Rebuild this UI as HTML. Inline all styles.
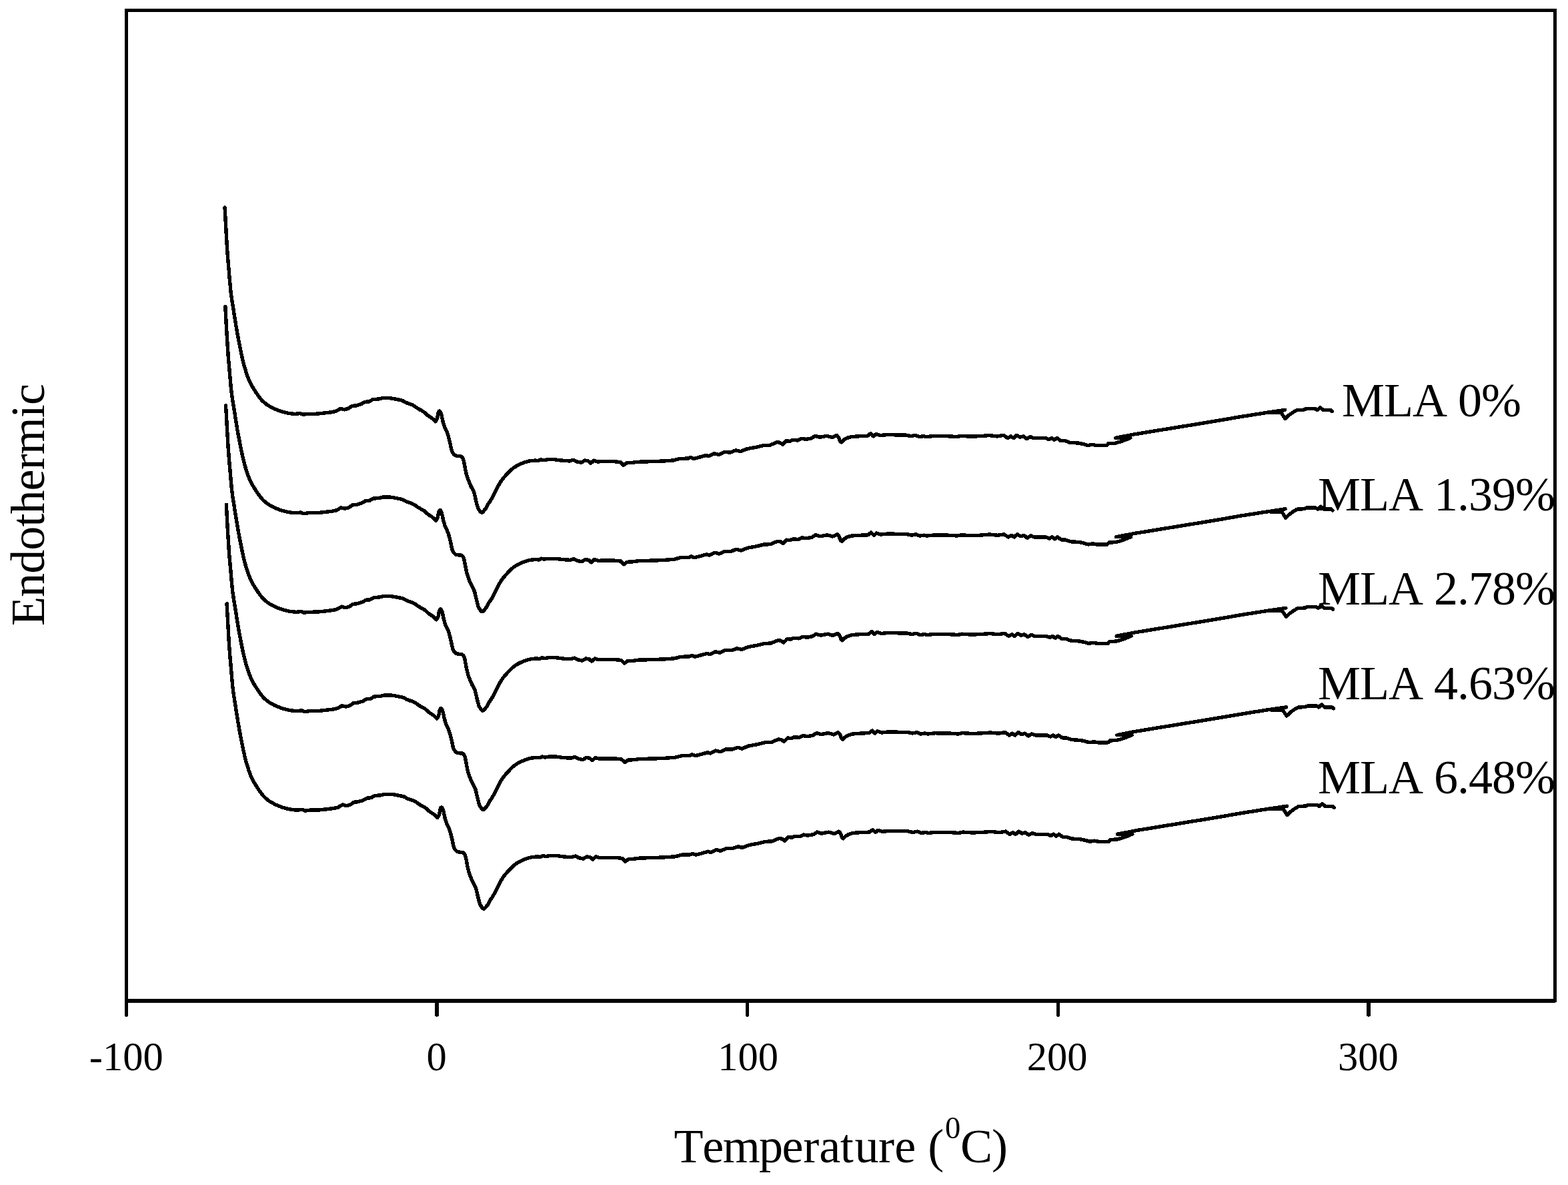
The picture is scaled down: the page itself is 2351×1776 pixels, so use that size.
<!DOCTYPE html>
<html lang="en">
<head>
<meta charset="utf-8">
<title>DSC thermograms</title>
<style>
html,body{margin:0;padding:0;background:#fff;}
body{width:2351px;height:1776px;overflow:hidden;}
svg{display:block;}
text{font-family:"Liberation Serif","Times New Roman",Times,serif;fill:#000;font-kerning:none;font-variant-ligatures:none;}
</style>
</head>
<body>
<svg width="2351" height="1776" viewBox="0 0 2351 1776">
<defs><clipPath id="plot"><rect x="189" y="15" width="2142" height="1485"/></clipPath></defs>
<rect x="0" y="0" width="2351" height="1776" fill="#fff"/>
<g clip-path="url(#plot)">
<text x="2012.0" y="624" font-size="72" letter-spacing="-1">MLA 0%</text>
<text x="1976.0" y="765" font-size="72" letter-spacing="-1">MLA 1.39%</text>
<text x="1976.0" y="906" font-size="72" letter-spacing="-1">MLA 2.78%</text>
<text x="1976.0" y="1048" font-size="72" letter-spacing="-1">MLA 4.63%</text>
<text x="1976.0" y="1189" font-size="72" letter-spacing="-1">MLA 6.48%</text>
</g>
<g fill="none" stroke="#000" stroke-width="5.4" stroke-linejoin="round" stroke-linecap="round" shape-rendering="crispEdges">
<polyline points="337.1,311.0 337.3,315.5 337.7,321.8 338.1,329.2 338.5,337.0 338.9,344.2 339.3,351.0 339.7,358.0 340.1,364.9 340.5,371.8 341.0,378.5 341.5,385.0 342.0,391.4 342.5,397.6 343.1,403.8 343.6,410.0 344.1,416.3 344.7,422.7 345.3,428.9 345.8,434.8 346.4,440.0 347.0,444.4 347.5,448.2 348.1,451.7 348.6,455.0 349.2,458.5 349.8,462.2 350.3,465.9 350.9,469.6 351.5,473.3 352.1,477.0 352.7,480.8 353.3,484.6 353.9,488.5 354.6,492.3 355.2,496.0 355.8,499.6 356.5,503.1 357.2,506.6 357.8,510.0 358.5,513.5 359.2,517.0 359.9,520.5 360.6,524.1 361.3,527.5 362.0,531.0 362.8,534.4 363.5,537.8 364.3,541.2 365.1,544.5 366.0,547.8 366.9,551.1 368.0,554.4 369.0,557.6 370.0,560.7 371.0,563.5 371.9,566.0 372.8,568.3 373.7,570.4 374.5,572.4 375.4,574.2 376.2,575.8 377.0,577.2 377.8,578.6 378.6,579.9 379.6,581.5 380.7,583.3 382.0,585.3 383.3,587.4 384.7,589.4 386.0,591.3 387.3,593.1 388.5,594.8 389.8,596.5 391.1,598.1 392.4,599.6 393.8,601.0 395.2,602.4 396.6,603.6 398.1,604.8 399.6,606.0 401.2,607.1 402.8,608.1 404.5,609.1 406.2,610.0 407.8,610.9 409.4,611.7 411.0,612.5 412.7,613.2 414.3,613.9 415.9,614.5 417.5,615.1 419.0,615.7 420.6,616.3 422.3,616.8 424.0,617.3 425.9,617.8 427.9,618.3 430.0,618.7 432.0,619.2 434.0,619.5 436.0,619.8 438.1,620.0 440.1,620.2 441.8,620.3 443.0,620.4 450.3,619.5 454.3,621.3 461.1,620.4 474.7,620.2 486.4,619.0 497.3,617.7 503.6,616.3 510.8,612.3 516.3,613.9 522.2,612.3 527.5,608.5 534.4,607.8 541.6,605.6 547.0,602.4 553.3,601.9 558.8,598.8 568.7,597.9 569.5,597.7 570.6,597.4 571.9,597.0 573.4,596.7 575.0,596.5 576.8,596.4 578.8,596.4 580.9,596.5 583.0,596.6 585.0,596.8 586.9,597.0 588.7,597.3 590.4,597.6 592.2,597.9 594.0,598.3 595.9,598.7 597.8,599.1 599.7,599.5 601.5,599.9 603.1,600.4 604.3,600.9 605.3,601.5 606.2,602.1 607.2,602.7 608.5,603.3 610.2,603.9 612.2,604.6 614.3,605.3 616.5,606.1 618.4,606.9 620.2,607.9 621.8,609.0 623.4,610.1 625.0,611.2 626.6,612.3 628.3,613.3 629.9,614.2 631.6,615.0 633.2,615.9 634.7,616.9 636.1,617.9 637.3,619.0 638.5,620.1 639.7,621.2 641.0,622.3 642.4,623.3 644.0,624.4 645.5,625.4 647.0,626.3 648.3,627.3 649.5,628.3 650.5,629.4 651.5,630.3 652.2,631.2 652.8,631.8 653.5,630.6 654.6,628.8 655.5,626.8 656.1,624.4 656.5,621.8 656.9,619.6 657.3,618.2 657.7,617.2 658.2,616.6 658.7,616.2 659.2,616.1 659.8,616.6 660.4,617.7 661.1,619.3 661.8,621.4 662.5,624.4 663.2,627.9 663.7,630.4 664.0,631.6 664.5,633.4 665.1,635.5 665.7,637.6 666.4,639.5 667.1,641.3 667.9,643.0 668.8,644.7 669.6,646.4 670.3,648.0 670.9,649.6 671.4,651.1 671.8,652.6 672.3,654.1 672.7,655.7 673.2,657.4 673.7,659.3 674.1,661.2 674.6,663.0 675.0,664.8 675.4,666.5 675.7,668.3 676.0,670.0 676.4,671.6 676.7,673.0 677.0,674.3 677.3,675.4 677.7,676.4 678.1,677.4 678.6,678.3 679.2,679.3 680.0,680.2 680.8,681.1 681.6,681.9 682.5,682.5 683.4,682.9 684.3,683.1 685.2,683.2 686.1,683.3 687.0,683.4 687.8,683.5 688.7,683.4 689.5,683.4 690.3,683.5 691.0,683.8 691.7,684.3 692.4,684.8 693.1,685.5 693.7,686.4 694.3,687.6 694.8,689.1 695.3,690.8 695.7,692.7 696.1,694.8 696.5,696.9 696.9,699.1 697.4,701.5 697.8,704.0 698.3,706.4 698.8,708.6 699.3,710.5 699.8,712.3 700.3,714.0 700.8,715.7 701.5,717.6 702.3,719.7 703.2,721.9 704.1,724.2 705.1,726.4 706.0,728.5 706.9,730.4 707.9,732.1 708.8,733.9 709.7,735.6 710.5,737.5 711.1,739.5 711.7,741.7 712.2,743.9 712.7,746.1 713.2,748.4 713.8,750.9 714.5,753.5 715.1,756.1 715.8,758.5 716.4,760.5 717.0,762.0 717.6,763.1 718.2,764.0 718.7,764.7 719.2,765.4 719.6,766.0 720.0,766.5 720.3,767.0 720.6,767.3 720.9,767.6 721.2,767.8 721.6,768.0 721.9,768.1 722.2,768.2 722.4,768.3 722.6,768.2 722.8,768.2 723.1,768.0 723.5,767.8 723.9,767.5 724.4,767.0 724.9,766.4 725.5,765.6 726.0,764.9 726.6,764.2 727.1,763.6 727.7,763.0 728.2,762.4 728.8,761.7 729.3,760.9 729.8,760.0 730.2,758.9 730.7,757.8 731.2,756.7 731.8,755.6 732.5,754.5 733.3,753.4 734.1,752.3 734.9,751.1 735.7,749.9 736.5,748.6 737.2,747.3 737.9,746.0 738.7,744.5 739.5,743.0 740.3,741.3 741.2,739.6 742.1,737.7 743.0,735.8 744.0,733.9 745.0,731.9 746.1,729.8 747.3,727.7 748.4,725.8 749.4,724.0 750.3,722.5 751.2,721.2 752.0,720.0 752.9,718.9 753.9,717.6 755.0,716.2 756.3,714.8 757.6,713.3 758.9,711.9 760.3,710.4 761.7,708.9 763.1,707.4 764.5,706.0 766.0,704.5 767.5,703.2 769.0,702.0 770.6,700.8 772.2,699.8 773.9,698.8 775.6,697.8 777.4,696.9 779.2,696.0 781.0,695.2 782.9,694.4 784.7,693.7 786.5,693.0 788.3,692.4 790.1,691.9 791.9,691.4 793.7,691.0 795.6,690.7 797.7,690.5 799.7,690.3 801.5,690.2 802.7,690.1 807.3,690.5 810.9,688.7 815.4,689.8 820.8,688.7 832.2,688.8 841.7,690.1 853.9,690.9 860.0,689.2 864.8,691.9 871.5,693.3 877.0,690.1 881.7,690.9 885.8,694.2 890.5,690.1 896.0,691.9 906.8,691.5 919.0,691.5 929.9,692.6 934.6,697.3 939.4,693.9 948.8,693.3 955.6,692.3 969.2,691.9 982.8,691.5 996.3,690.9 1009.9,689.9 1019.4,687.4 1031.6,687.1 1035.7,685.5 1040.4,687.4 1050.6,684.7 1058.7,682.4 1062.8,683.8 1070.9,679.7 1077.7,681.5 1085.8,677.7 1095.3,677.9 1103.5,674.9 1110.2,676.6 1120.3,672.7 1133.9,670.2 1144.8,667.5 1154.3,667.2 1165.1,662.7 1169.2,663.2 1173.4,666.2 1178.7,660.7 1184.1,661.4 1188.2,659.4 1196.3,660.0 1201.7,657.3 1208.5,658.3 1216.6,656.9 1222.1,653.3 1228.8,655.3 1239.7,653.3 1247.8,655.6 1254.6,652.3 1257.3,655.3 1259.6,661.5 1261.4,662.9 1264.8,659.4 1269.5,656.6 1276.3,654.6 1289.9,653.7 1300.7,653.3 1305.5,649.6 1309.5,653.7 1313.6,650.5 1319.7,652.6 1330.6,651.5 1344.1,651.9 1357.7,651.9 1365.8,653.7 1372.6,652.3 1378.0,654.6 1384.8,653.7 1388.9,654.6 1400.0,653.5 1420.7,653.7 1434.3,654.6 1441.0,653.3 1454.6,654.2 1468.2,653.7 1483.1,652.6 1495.3,653.9 1504.8,652.3 1510.9,656.6 1515.6,653.9 1519.7,656.6 1524.5,652.3 1529.2,655.3 1534.6,653.9 1539.4,657.7 1544.8,654.6 1549.5,656.4 1567.2,656.4 1572.6,658.7 1576.7,656.4 1580.7,659.4 1584.8,656.4 1590.2,660.4 1597.0,660.7 1603.8,663.2 1617.4,664.1 1624.1,665.5 1630.9,667.5 1637.7,666.4 1645.0,667.7 1659.5,667.5 1662.0,664.6 1672.0,664.2 1680.7,661.8 1689.7,658.4 1694.8,656.2 1672.6,656.4 1700.0,651.0 1740.0,644.5 1780.0,638.0 1820.0,631.5 1860.0,624.6 1900.0,618.3 1926.5,614.4 1903.5,618.6 1921.0,618.6 1926.9,627.6 1932.3,622.5 1937.8,618.5 1944.1,614.8 1954.9,614.2 1958.8,612.4 1972.3,612.8 1975.0,614.6 1979.6,610.8 1984.1,614.6 1994.9,614.6 1997.2,616.4"/>
<polyline points="337.9,459.4 338.1,463.9 338.4,470.3 338.8,477.7 339.2,485.4 339.6,492.6 340.0,499.5 340.4,506.4 340.9,513.4 341.3,520.3 341.8,527.0 342.2,533.5 342.7,539.8 343.3,546.1 343.8,552.3 344.4,558.5 344.9,564.7 345.5,571.1 346.0,577.3 346.6,583.2 347.1,588.5 347.7,592.9 348.3,596.7 348.8,600.1 349.4,603.4 349.9,607.0 350.5,610.6 351.1,614.3 351.7,618.0 352.3,621.7 352.9,625.5 353.5,629.2 354.1,633.1 354.7,636.9 355.3,640.7 355.9,644.5 356.6,648.0 357.2,651.6 357.9,655.0 358.6,658.5 359.2,662.0 359.9,665.5 360.6,669.0 361.3,672.5 362.0,676.0 362.8,679.5 363.5,682.9 364.3,686.3 365.1,689.6 365.9,693.0 366.8,696.2 367.7,699.5 368.7,702.8 369.7,706.1 370.8,709.1 371.8,712.0 372.7,714.5 373.6,716.8 374.4,718.9 375.3,720.8 376.1,722.7 377.0,724.3 377.7,725.7 378.5,727.0 379.4,728.4 380.4,730.0 381.5,731.8 382.8,733.8 384.1,735.8 385.4,737.8 386.8,739.8 388.0,741.5 389.3,743.3 390.5,744.9 391.8,746.5 393.1,748.0 394.5,749.5 395.9,750.8 397.4,752.1 398.8,753.3 400.4,754.5 401.9,755.5 403.6,756.6 405.2,757.6 406.9,758.5 408.6,759.3 410.2,760.2 411.8,760.9 413.4,761.6 415.0,762.3 416.6,763.0 418.2,763.6 419.8,764.2 421.4,764.7 423.0,765.2 424.8,765.8 426.6,766.2 428.7,766.7 430.7,767.2 432.8,767.6 434.8,768.0 436.8,768.2 438.9,768.4 440.8,768.6 442.5,768.7 443.8,768.8 451.1,768.0 455.1,769.8 461.9,768.8 475.4,768.7 487.1,767.5 498.1,766.2 504.4,764.8 511.6,760.8 517.0,762.3 523.0,760.8 528.2,757.0 535.1,756.2 542.4,754.0 547.8,750.8 554.0,750.3 559.5,747.2 569.5,746.3 570.2,746.1 571.3,745.8 572.7,745.5 574.2,745.1 575.8,745.0 577.5,744.9 579.5,744.9 581.6,745.0 583.8,745.1 585.8,745.2 587.6,745.5 589.4,745.7 591.2,746.0 593.0,746.4 594.8,746.8 596.6,747.1 598.6,747.5 600.5,747.9 602.3,748.4 603.9,748.8 605.1,749.4 606.1,749.9 606.9,750.5 607.9,751.1 609.2,751.8 611.0,752.4 613.0,753.1 615.1,753.7 617.2,754.5 619.1,755.3 620.9,756.3 622.6,757.4 624.2,758.6 625.7,759.7 627.4,760.8 629.0,761.7 630.7,762.6 632.3,763.5 633.9,764.4 635.5,765.3 636.8,766.4 638.1,767.5 639.2,768.6 640.5,769.7 641.8,770.8 643.2,771.8 644.7,772.8 646.3,773.8 647.8,774.8 649.0,775.8 650.2,776.8 651.3,777.8 652.2,778.8 653.0,779.6 653.5,780.2 654.3,779.0 655.3,777.3 656.2,775.2 656.8,772.9 657.2,770.2 657.6,768.0 658.1,766.6 658.5,765.7 659.0,765.0 659.4,764.7 660.0,764.6 660.5,765.0 661.2,766.1 661.9,767.8 662.5,769.8 663.3,772.9 664.0,776.4 664.5,778.8 664.8,780.1 665.3,781.9 665.9,783.9 666.5,786.0 667.1,788.0 667.9,789.7 668.7,791.4 669.5,793.1 670.3,794.8 671.0,796.5 671.6,798.0 672.1,799.5 672.6,801.0 673.0,802.5 673.5,804.2 673.9,805.9 674.4,807.7 674.9,809.6 675.3,811.5 675.8,813.2 676.1,815.0 676.5,816.7 676.8,818.4 677.1,820.0 677.5,821.5 677.8,822.7 678.1,823.8 678.4,824.8 678.8,825.8 679.4,826.8 680.0,827.7 680.7,828.7 681.6,829.6 682.4,830.3 683.2,831.0 684.1,831.3 685.0,831.6 686.0,831.7 686.9,831.8 687.8,831.8 688.6,831.9 689.4,831.9 690.2,831.9 691.0,832.0 691.8,832.2 692.5,832.7 693.2,833.3 693.8,834.0 694.5,834.9 695.0,836.0 695.6,837.5 696.0,839.3 696.4,841.2 696.8,843.2 697.2,845.3 697.7,847.6 698.1,850.0 698.6,852.4 699.1,854.8 699.5,857.0 700.0,859.0 700.5,860.8 701.0,862.4 701.6,864.2 702.2,866.0 703.0,868.1 703.9,870.4 704.9,872.6 705.8,874.9 706.8,877.0 707.7,878.8 708.6,880.6 709.6,882.3 710.5,884.1 711.2,886.0 711.9,888.0 712.4,890.1 712.9,892.3 713.4,894.6 714.0,896.8 714.6,899.3 715.2,901.9 715.9,904.6 716.5,907.0 717.1,909.0 717.8,910.4 718.4,911.6 718.9,912.4 719.5,913.2 720.0,913.8 720.4,914.5 720.7,915.0 721.0,915.4 721.3,915.7 721.6,916.0 722.0,916.3 722.3,916.5 722.7,916.6 722.9,916.7 723.1,916.8 723.3,916.7 723.6,916.6 723.9,916.5 724.2,916.3 724.6,916.0 725.1,915.5 725.6,914.8 726.2,914.1 726.8,913.3 727.4,912.7 727.9,912.0 728.4,911.4 729.0,910.8 729.5,910.1 730.0,909.3 730.5,908.4 731.0,907.4 731.5,906.3 732.0,905.2 732.5,904.0 733.2,903.0 734.0,901.9 734.8,900.7 735.7,899.6 736.5,898.3 737.2,897.1 737.9,895.8 738.7,894.4 739.4,893.0 740.2,891.5 741.1,889.8 742.0,888.0 742.9,886.2 743.8,884.3 744.8,882.3 745.8,880.4 746.9,878.3 748.0,876.2 749.1,874.2 750.1,872.5 751.1,871.0 751.9,869.7 752.8,868.5 753.6,867.3 754.6,866.0 755.8,864.7 757.0,863.2 758.3,861.8 759.7,860.3 761.0,858.8 762.4,857.4 763.8,855.9 765.3,854.4 766.7,853.0 768.2,851.7 769.8,850.4 771.4,849.3 773.0,848.2 774.7,847.2 776.4,846.2 778.1,845.3 779.9,844.4 781.8,843.6 783.6,842.9 785.5,842.2 787.3,841.5 789.1,840.9 790.9,840.3 792.7,839.9 794.5,839.5 796.4,839.1 798.5,838.9 800.5,838.8 802.2,838.6 803.5,838.5 808.0,839.0 811.6,837.2 816.1,838.2 821.5,837.2 833.0,837.2 842.5,838.5 854.6,839.3 860.8,837.7 865.5,840.3 872.2,841.8 877.8,838.5 882.5,839.3 886.5,842.7 891.2,838.5 896.8,840.3 907.5,840.0 919.8,840.0 930.6,841.0 935.4,845.8 940.1,842.3 949.5,841.8 956.4,840.8 970.0,840.3 983.5,840.0 997.0,839.3 1010.6,838.3 1020.1,835.8 1032.3,835.5 1036.5,834.0 1041.2,835.8 1051.3,833.2 1059.5,830.8 1063.5,832.2 1071.7,828.2 1078.5,830.0 1086.5,826.2 1096.0,826.3 1104.2,823.3 1111.0,825.0 1121.0,821.2 1134.7,818.7 1145.5,816.0 1155.0,815.7 1165.8,811.2 1170.0,811.7 1174.2,814.7 1179.5,809.2 1184.8,809.8 1189.0,807.8 1197.0,808.5 1202.5,805.8 1209.2,806.8 1217.3,805.3 1222.8,801.8 1229.5,803.8 1240.5,801.8 1248.5,804.0 1255.3,800.8 1258.0,803.8 1260.3,810.0 1262.2,811.3 1265.5,807.8 1270.2,805.0 1277.0,803.0 1290.7,802.2 1301.5,801.8 1306.2,798.0 1310.2,802.2 1314.3,799.0 1320.5,801.0 1331.3,800.0 1344.8,800.3 1358.5,800.3 1366.5,802.2 1373.3,800.8 1378.8,803.0 1385.5,802.2 1389.7,803.0 1400.8,802.0 1421.5,802.2 1435.0,803.0 1441.8,801.8 1455.3,802.7 1469.0,802.2 1483.8,801.0 1496.0,802.3 1505.5,800.8 1511.7,805.0 1516.3,802.3 1520.5,805.0 1525.2,800.8 1530.0,803.8 1535.3,802.3 1540.2,806.2 1545.5,803.0 1550.2,804.8 1568.0,804.8 1573.3,807.2 1577.5,804.8 1581.5,807.8 1585.5,804.8 1591.0,808.8 1597.8,809.2 1604.5,811.7 1618.2,812.5 1624.8,814.0 1631.7,816.0 1638.5,814.8 1645.8,816.2 1660.2,816.0 1662.8,813.0 1672.8,812.7 1681.5,810.2 1690.5,806.8 1695.5,804.7 1673.3,804.8 1700.8,799.5 1740.8,793.0 1780.8,786.5 1820.8,780.0 1860.8,773.0 1900.8,766.8 1927.2,762.8 1904.2,767.0 1921.8,767.0 1927.7,776.0 1933.0,771.0 1938.5,767.0 1944.8,763.2 1955.7,762.7 1959.5,760.8 1973.0,761.2 1975.8,763.0 1980.3,759.2 1984.8,763.0 1995.7,763.0 1998.0,764.8"/>
<polyline points="338.6,607.9 338.8,612.4 339.2,618.7 339.6,626.1 340.0,633.9 340.4,641.1 340.8,647.9 341.2,654.9 341.6,661.8 342.0,668.7 342.5,675.4 343.0,681.9 343.5,688.3 344.0,694.5 344.6,700.7 345.1,706.9 345.6,713.2 346.2,719.6 346.8,725.8 347.3,731.7 347.9,736.9 348.5,741.3 349.0,745.1 349.6,748.6 350.1,751.9 350.7,755.4 351.3,759.1 351.8,762.8 352.4,766.5 353.0,770.2 353.6,773.9 354.2,777.7 354.8,781.5 355.4,785.4 356.1,789.2 356.7,792.9 357.3,796.5 358.0,800.0 358.7,803.5 359.3,806.9 360.0,810.4 360.7,813.9 361.4,817.4 362.1,821.0 362.8,824.4 363.5,827.9 364.3,831.3 365.0,834.7 365.8,838.1 366.6,841.4 367.5,844.7 368.4,848.0 369.5,851.3 370.5,854.5 371.5,857.6 372.5,860.4 373.4,862.9 374.3,865.2 375.2,867.3 376.0,869.3 376.9,871.1 377.7,872.7 378.5,874.1 379.3,875.5 380.1,876.8 381.1,878.4 382.2,880.2 383.5,882.2 384.8,884.3 386.2,886.3 387.5,888.2 388.8,890.0 390.0,891.7 391.3,893.4 392.6,895.0 393.9,896.5 395.3,897.9 396.7,899.3 398.1,900.5 399.6,901.7 401.1,902.9 402.7,904.0 404.3,905.0 406.0,906.0 407.7,906.9 409.3,907.8 410.9,908.6 412.5,909.4 414.2,910.1 415.8,910.8 417.4,911.4 419.0,912.0 420.5,912.6 422.1,913.2 423.8,913.7 425.5,914.2 427.4,914.7 429.4,915.2 431.5,915.6 433.5,916.1 435.5,916.4 437.5,916.7 439.6,916.9 441.6,917.1 443.3,917.2 444.5,917.3 451.8,916.4 455.8,918.2 462.6,917.3 476.2,917.1 487.9,915.9 498.8,914.6 505.1,913.2 512.3,909.2 517.8,910.8 523.7,909.2 529.0,905.4 535.9,904.7 543.1,902.5 548.5,899.3 554.8,898.8 560.3,895.7 570.2,894.8 571.0,894.6 572.1,894.3 573.4,893.9 574.9,893.6 576.5,893.4 578.3,893.3 580.3,893.3 582.4,893.4 584.5,893.5 586.5,893.7 588.4,893.9 590.2,894.2 591.9,894.5 593.7,894.8 595.5,895.2 597.4,895.6 599.3,896.0 601.2,896.4 603.0,896.8 604.6,897.3 605.8,897.8 606.8,898.4 607.7,899.0 608.7,899.6 610.0,900.2 611.7,900.8 613.7,901.5 615.8,902.2 618.0,903.0 619.9,903.8 621.7,904.8 623.3,905.9 624.9,907.0 626.5,908.1 628.1,909.2 629.8,910.2 631.4,911.1 633.1,911.9 634.7,912.8 636.2,913.8 637.6,914.8 638.8,915.9 640.0,917.0 641.2,918.1 642.5,919.2 643.9,920.2 645.5,921.3 647.0,922.3 648.5,923.2 649.8,924.2 651.0,925.2 652.0,926.3 653.0,927.2 653.7,928.1 654.3,928.7 655.0,927.5 656.1,925.7 657.0,923.7 657.6,921.3 658.0,918.7 658.4,916.5 658.8,915.1 659.2,914.1 659.7,913.5 660.2,913.1 660.7,913.0 661.3,913.5 661.9,914.6 662.6,916.2 663.3,918.3 664.0,921.3 664.7,924.8 665.2,927.3 665.5,928.5 666.0,930.3 666.6,932.4 667.2,934.5 667.9,936.4 668.6,938.2 669.4,939.9 670.3,941.6 671.1,943.3 671.8,944.9 672.4,946.5 672.9,948.0 673.3,949.5 673.8,951.0 674.2,952.6 674.7,954.3 675.2,956.2 675.6,958.1 676.1,959.9 676.5,961.7 676.9,963.4 677.2,965.2 677.5,966.9 677.9,968.5 678.2,969.9 678.5,971.2 678.8,972.3 679.2,973.3 679.6,974.3 680.1,975.2 680.7,976.2 681.5,977.1 682.3,978.0 683.1,978.8 684.0,979.4 684.9,979.8 685.8,980.0 686.7,980.1 687.6,980.2 688.5,980.3 689.3,980.4 690.2,980.3 691.0,980.3 691.8,980.4 692.5,980.7 693.2,981.2 693.9,981.7 694.6,982.4 695.2,983.3 695.8,984.5 696.3,986.0 696.8,987.7 697.2,989.6 697.6,991.7 698.0,993.8 698.4,996.0 698.9,998.4 699.3,1000.9 699.8,1003.3 700.3,1005.5 700.8,1007.4 701.3,1009.2 701.8,1010.9 702.3,1012.6 703.0,1014.5 703.8,1016.6 704.7,1018.8 705.6,1021.1 706.6,1023.3 707.5,1025.4 708.4,1027.3 709.4,1029.0 710.3,1030.8 711.2,1032.5 712.0,1034.4 712.6,1036.4 713.2,1038.6 713.7,1040.8 714.2,1043.0 714.7,1045.3 715.3,1047.8 716.0,1050.4 716.6,1053.0 717.3,1055.4 717.9,1057.4 718.5,1058.9 719.1,1060.0 719.7,1060.9 720.2,1061.6 720.7,1062.3 721.1,1062.9 721.5,1063.4 721.8,1063.9 722.1,1064.2 722.4,1064.5 722.7,1064.7 723.1,1064.9 723.4,1065.0 723.7,1065.1 723.9,1065.2 724.1,1065.1 724.3,1065.1 724.6,1064.9 725.0,1064.7 725.4,1064.4 725.9,1063.9 726.4,1063.3 727.0,1062.5 727.5,1061.8 728.1,1061.1 728.6,1060.5 729.2,1059.9 729.7,1059.3 730.3,1058.6 730.8,1057.8 731.3,1056.9 731.7,1055.8 732.2,1054.7 732.7,1053.6 733.3,1052.5 734.0,1051.4 734.8,1050.3 735.6,1049.2 736.4,1048.0 737.2,1046.8 738.0,1045.5 738.7,1044.2 739.4,1042.9 740.2,1041.4 741.0,1039.9 741.8,1038.2 742.7,1036.5 743.6,1034.6 744.5,1032.7 745.5,1030.8 746.5,1028.8 747.6,1026.7 748.8,1024.6 749.9,1022.7 750.9,1020.9 751.8,1019.4 752.7,1018.1 753.5,1016.9 754.4,1015.8 755.4,1014.5 756.5,1013.1 757.8,1011.7 759.1,1010.2 760.4,1008.8 761.8,1007.3 763.2,1005.8 764.6,1004.3 766.0,1002.9 767.5,1001.4 769.0,1000.1 770.5,998.9 772.1,997.7 773.7,996.7 775.4,995.7 777.1,994.7 778.9,993.8 780.7,992.9 782.5,992.1 784.4,991.3 786.2,990.6 788.0,989.9 789.8,989.3 791.6,988.8 793.4,988.3 795.2,987.9 797.1,987.6 799.2,987.4 801.2,987.2 803.0,987.1 804.2,987.0 808.8,987.4 812.4,985.6 816.9,986.7 822.3,985.6 833.7,985.7 843.2,987.0 855.4,987.8 861.5,986.1 866.3,988.8 873.0,990.2 878.5,987.0 883.2,987.8 887.3,991.1 892.0,987.0 897.5,988.8 908.3,988.4 920.5,988.4 931.4,989.5 936.1,994.2 940.9,990.8 950.3,990.2 957.1,989.2 970.7,988.8 984.3,988.4 997.8,987.8 1011.4,986.8 1020.9,984.3 1033.1,984.0 1037.2,982.4 1041.9,984.3 1052.1,981.6 1060.2,979.3 1064.3,980.7 1072.4,976.6 1079.2,978.4 1087.3,974.6 1096.8,974.8 1105.0,971.8 1111.7,973.5 1121.8,969.6 1135.4,967.1 1146.3,964.4 1155.8,964.1 1166.6,959.6 1170.7,960.1 1174.9,963.1 1180.2,957.6 1185.6,958.3 1189.7,956.3 1197.8,956.9 1203.2,954.2 1210.0,955.2 1218.1,953.8 1223.6,950.2 1230.3,952.2 1241.2,950.2 1249.3,952.5 1256.1,949.2 1258.8,952.2 1261.1,958.4 1262.9,959.8 1266.3,956.3 1271.0,953.5 1277.8,951.5 1291.4,950.6 1302.2,950.2 1307.0,946.5 1311.0,950.6 1315.1,947.4 1321.2,949.5 1332.1,948.4 1345.6,948.8 1359.2,948.8 1367.3,950.6 1374.1,949.2 1379.5,951.5 1386.3,950.6 1390.4,951.5 1401.5,950.4 1422.2,950.6 1435.8,951.5 1442.5,950.2 1456.1,951.1 1469.7,950.6 1484.6,949.5 1496.8,950.8 1506.3,949.2 1512.4,953.5 1517.1,950.8 1521.2,953.5 1526.0,949.2 1530.7,952.2 1536.1,950.8 1540.9,954.6 1546.3,951.5 1551.0,953.3 1568.7,953.3 1574.1,955.6 1578.2,953.3 1582.2,956.3 1586.3,953.3 1591.7,957.3 1598.5,957.6 1605.3,960.1 1618.9,961.0 1625.6,962.4 1632.4,964.4 1639.2,963.3 1646.5,964.6 1661.0,964.4 1663.5,961.5 1673.5,961.1 1682.2,958.7 1691.2,955.3 1696.3,953.1 1674.1,953.3 1701.5,947.9 1741.5,941.4 1781.5,934.9 1821.5,928.4 1861.5,921.5 1901.5,915.2 1928.0,911.3 1905.0,915.5 1922.5,915.5 1928.4,924.5 1933.8,919.4 1939.3,915.4 1945.6,911.7 1956.4,911.1 1960.3,909.3 1973.8,909.7 1976.5,911.5 1981.1,907.7 1985.6,911.5 1996.4,911.5 1998.7,913.3"/>
<polyline points="339.4,756.3 339.6,760.8 339.9,767.2 340.3,774.6 340.7,782.3 341.1,789.5 341.5,796.4 341.9,803.3 342.4,810.3 342.8,817.2 343.2,823.8 343.7,830.4 344.2,836.7 344.8,843.0 345.3,849.2 345.9,855.3 346.4,861.6 347.0,868.0 347.5,874.2 348.1,880.1 348.6,885.3 349.2,889.8 349.8,893.6 350.3,897.0 350.9,900.3 351.4,903.8 352.0,907.5 352.6,911.2 353.2,914.9 353.8,918.6 354.4,922.3 355.0,926.1 355.6,930.0 356.2,933.8 356.8,937.6 357.4,941.3 358.1,944.9 358.7,948.5 359.4,951.9 360.1,955.4 360.8,958.8 361.4,962.4 362.1,965.9 362.8,969.4 363.5,972.9 364.2,976.3 365.0,979.8 365.8,983.2 366.6,986.5 367.4,989.9 368.2,993.1 369.2,996.4 370.2,999.7 371.2,1003.0 372.3,1006.0 373.2,1008.8 374.2,1011.4 375.1,1013.7 375.9,1015.8 376.8,1017.7 377.6,1019.5 378.5,1021.2 379.2,1022.6 380.0,1023.9 380.9,1025.3 381.9,1026.8 383.0,1028.7 384.3,1030.7 385.6,1032.7 386.9,1034.7 388.2,1036.6 389.5,1038.4 390.8,1040.2 392.0,1041.8 393.3,1043.4 394.6,1045.0 396.0,1046.4 397.4,1047.7 398.9,1049.0 400.3,1050.2 401.9,1051.3 403.4,1052.4 405.1,1053.5 406.7,1054.5 408.4,1055.4 410.1,1056.2 411.7,1057.1 413.3,1057.8 414.9,1058.5 416.5,1059.2 418.1,1059.8 419.7,1060.5 421.3,1061.1 422.9,1061.6 424.5,1062.1 426.2,1062.6 428.1,1063.1 430.2,1063.6 432.2,1064.1 434.3,1064.5 436.2,1064.8 438.3,1065.1 440.4,1065.3 442.3,1065.5 444.0,1065.6 445.2,1065.8 452.6,1064.8 456.6,1066.6 463.4,1065.8 476.9,1065.5 488.6,1064.3 499.6,1063.0 505.9,1061.6 513.0,1057.6 518.5,1059.2 524.5,1057.6 529.8,1053.8 536.6,1053.1 543.9,1051.0 549.2,1047.8 555.5,1047.2 561.0,1044.1 571.0,1043.2 571.7,1043.0 572.8,1042.7 574.2,1042.4 575.7,1042.0 577.2,1041.8 579.0,1041.8 581.0,1041.8 583.1,1041.9 585.3,1042.0 587.2,1042.1 589.1,1042.4 590.9,1042.6 592.7,1042.9 594.5,1043.3 596.2,1043.6 598.1,1044.0 600.1,1044.4 602.0,1044.8 603.8,1045.3 605.4,1045.8 606.6,1046.3 607.6,1046.8 608.4,1047.4 609.4,1048.0 610.8,1048.6 612.5,1049.3 614.5,1050.0 616.6,1050.6 618.7,1051.4 620.6,1052.2 622.4,1053.2 624.1,1054.3 625.7,1055.5 627.2,1056.6 628.9,1057.6 630.5,1058.6 632.2,1059.5 633.8,1060.4 635.4,1061.3 637.0,1062.2 638.3,1063.3 639.6,1064.4 640.7,1065.5 642.0,1066.6 643.2,1067.6 644.7,1068.7 646.2,1069.7 647.8,1070.7 649.3,1071.7 650.5,1072.6 651.7,1073.7 652.8,1074.7 653.7,1075.7 654.5,1076.5 655.0,1077.1 655.8,1075.9 656.8,1074.2 657.8,1072.1 658.3,1069.8 658.7,1067.1 659.1,1065.0 659.6,1063.5 660.0,1062.6 660.5,1062.0 660.9,1061.5 661.5,1061.5 662.0,1062.0 662.7,1063.0 663.4,1064.7 664.0,1066.8 664.8,1069.8 665.5,1073.3 666.0,1075.8 666.3,1077.0 666.8,1078.8 667.4,1080.8 668.0,1082.9 668.6,1084.8 669.4,1086.6 670.2,1088.3 671.0,1090.0 671.8,1091.7 672.5,1093.3 673.1,1094.9 673.6,1096.4 674.1,1097.9 674.5,1099.4 675.0,1101.0 675.4,1102.8 675.9,1104.6 676.4,1106.5 676.8,1108.4 677.2,1110.1 677.6,1111.9 678.0,1113.6 678.3,1115.3 678.6,1116.9 679.0,1118.3 679.3,1119.6 679.6,1120.7 679.9,1121.7 680.3,1122.7 680.9,1123.6 681.5,1124.6 682.2,1125.6 683.1,1126.5 683.9,1127.2 684.8,1127.8 685.6,1128.2 686.5,1128.5 687.5,1128.6 688.4,1128.7 689.2,1128.8 690.1,1128.8 690.9,1128.8 691.7,1128.8 692.5,1128.9 693.2,1129.1 694.0,1129.6 694.7,1130.2 695.3,1130.9 696.0,1131.8 696.5,1133.0 697.1,1134.4 697.5,1136.2 697.9,1138.1 698.3,1140.1 698.8,1142.2 699.2,1144.5 699.6,1146.9 700.1,1149.3 700.6,1151.7 701.0,1154.0 701.5,1155.9 702.0,1157.7 702.5,1159.3 703.1,1161.1 703.8,1163.0 704.5,1165.0 705.4,1167.3 706.4,1169.5 707.3,1171.8 708.2,1173.8 709.2,1175.7 710.1,1177.5 711.1,1179.2 712.0,1181.0 712.8,1182.8 713.4,1184.9 713.9,1187.0 714.4,1189.2 714.9,1191.5 715.5,1193.8 716.1,1196.2 716.7,1198.8 717.4,1201.5 718.0,1203.9 718.6,1205.8 719.3,1207.3 719.9,1208.5 720.4,1209.3 721.0,1210.1 721.5,1210.8 721.9,1211.4 722.2,1211.9 722.5,1212.3 722.8,1212.6 723.1,1213.0 723.5,1213.2 723.8,1213.4 724.2,1213.5 724.4,1213.6 724.6,1213.6 724.8,1213.6 725.1,1213.5 725.4,1213.4 725.7,1213.2 726.1,1212.8 726.6,1212.3 727.1,1211.7 727.7,1211.0 728.3,1210.2 728.9,1209.5 729.4,1208.9 729.9,1208.3 730.5,1207.7 731.0,1207.0 731.5,1206.2 732.0,1205.3 732.5,1204.3 733.0,1203.2 733.5,1202.1 734.0,1201.0 734.7,1199.9 735.5,1198.8 736.3,1197.6 737.2,1196.5 738.0,1195.2 738.7,1194.0 739.4,1192.7 740.2,1191.3 740.9,1189.9 741.8,1188.3 742.6,1186.7 743.5,1184.9 744.4,1183.1 745.3,1181.2 746.2,1179.2 747.3,1177.3 748.4,1175.2 749.5,1173.1 750.6,1171.1 751.6,1169.3 752.6,1167.9 753.4,1166.6 754.3,1165.4 755.1,1164.2 756.1,1163.0 757.3,1161.6 758.5,1160.1 759.8,1158.7 761.2,1157.2 762.5,1155.8 763.9,1154.3 765.3,1152.8 766.8,1151.3 768.2,1149.9 769.8,1148.5 771.3,1147.3 772.9,1146.2 774.5,1145.1 776.2,1144.1 777.9,1143.1 779.6,1142.2 781.4,1141.3 783.3,1140.5 785.1,1139.8 787.0,1139.0 788.8,1138.4 790.6,1137.8 792.4,1137.2 794.2,1136.8 796.0,1136.3 797.9,1136.0 800.0,1135.8 802.0,1135.7 803.7,1135.5 805.0,1135.5 809.5,1135.8 813.1,1134.0 817.6,1135.1 823.0,1134.0 834.5,1134.1 844.0,1135.5 856.1,1136.2 862.2,1134.5 867.0,1137.2 873.8,1138.6 879.2,1135.5 884.0,1136.2 888.0,1139.5 892.8,1135.5 898.2,1137.2 909.0,1136.8 921.2,1136.8 932.1,1138.0 936.9,1142.6 941.6,1139.2 951.0,1138.6 957.9,1137.6 971.5,1137.2 985.0,1136.8 998.5,1136.2 1012.1,1135.2 1021.6,1132.8 1033.8,1132.5 1038.0,1130.8 1042.7,1132.8 1052.8,1130.0 1061.0,1127.8 1065.0,1129.1 1073.2,1125.0 1080.0,1126.8 1088.0,1123.0 1097.5,1123.2 1105.8,1120.2 1112.5,1122.0 1122.5,1118.0 1136.2,1115.5 1147.0,1112.8 1156.5,1112.5 1167.3,1108.0 1171.5,1108.5 1175.7,1111.5 1181.0,1106.0 1186.3,1106.8 1190.5,1104.8 1198.5,1105.3 1204.0,1102.6 1210.8,1103.6 1218.8,1102.2 1224.3,1098.6 1231.0,1100.6 1242.0,1098.6 1250.0,1101.0 1256.8,1097.6 1259.5,1100.6 1261.8,1106.8 1263.7,1108.2 1267.0,1104.8 1271.8,1102.0 1278.5,1100.0 1292.2,1099.0 1303.0,1098.6 1307.8,1095.0 1311.8,1099.0 1315.8,1095.8 1322.0,1098.0 1332.8,1096.8 1346.3,1097.2 1360.0,1097.2 1368.0,1099.0 1374.8,1097.6 1380.2,1100.0 1387.0,1099.0 1391.2,1100.0 1402.2,1098.8 1423.0,1099.0 1436.5,1100.0 1443.2,1098.6 1456.8,1099.5 1470.5,1099.0 1485.3,1098.0 1497.5,1099.2 1507.0,1097.6 1513.2,1102.0 1517.8,1099.2 1522.0,1102.0 1526.8,1097.6 1531.5,1100.6 1536.8,1099.2 1541.7,1103.0 1547.0,1100.0 1551.8,1101.8 1569.5,1101.8 1574.8,1104.0 1579.0,1101.8 1583.0,1104.8 1587.0,1101.8 1592.5,1105.8 1599.2,1106.0 1606.0,1108.5 1619.7,1109.5 1626.3,1110.8 1633.2,1112.8 1640.0,1111.8 1647.2,1113.0 1661.8,1112.8 1664.2,1110.0 1674.2,1109.5 1683.0,1107.1 1692.0,1103.8 1697.0,1101.5 1674.8,1101.8 1702.2,1096.3 1742.2,1089.8 1782.2,1083.3 1822.2,1076.8 1862.2,1070.0 1902.2,1063.6 1928.8,1059.8 1905.8,1064.0 1923.2,1064.0 1929.2,1073.0 1934.5,1067.8 1940.0,1063.8 1946.3,1060.1 1957.2,1059.5 1961.0,1057.8 1974.5,1058.1 1977.2,1060.0 1981.8,1056.1 1986.3,1060.0 1997.2,1060.0 1999.5,1061.8"/>
<polyline points="340.1,904.8 340.3,909.3 340.7,915.6 341.1,923.0 341.5,930.8 341.9,938.0 342.3,944.8 342.7,951.8 343.1,958.7 343.5,965.6 344.0,972.3 344.5,978.8 345.0,985.2 345.5,991.4 346.1,997.6 346.6,1003.8 347.1,1010.1 347.7,1016.5 348.3,1022.7 348.8,1028.6 349.4,1033.8 350.0,1038.2 350.5,1042.0 351.1,1045.5 351.6,1048.8 352.2,1052.3 352.8,1056.0 353.3,1059.7 353.9,1063.4 354.5,1067.1 355.1,1070.8 355.7,1074.6 356.3,1078.4 356.9,1082.3 357.6,1086.1 358.2,1089.8 358.8,1093.4 359.5,1096.9 360.2,1100.4 360.8,1103.8 361.5,1107.3 362.2,1110.8 362.9,1114.3 363.6,1117.9 364.3,1121.3 365.0,1124.8 365.8,1128.2 366.5,1131.6 367.3,1135.0 368.1,1138.3 369.0,1141.6 369.9,1144.9 371.0,1148.2 372.0,1151.4 373.0,1154.5 374.0,1157.3 374.9,1159.8 375.8,1162.1 376.7,1164.2 377.5,1166.2 378.4,1168.0 379.2,1169.6 380.0,1171.0 380.8,1172.4 381.6,1173.7 382.6,1175.3 383.7,1177.1 385.0,1179.1 386.3,1181.2 387.7,1183.2 389.0,1185.1 390.3,1186.9 391.5,1188.6 392.8,1190.3 394.1,1191.9 395.4,1193.4 396.8,1194.8 398.2,1196.2 399.6,1197.4 401.1,1198.6 402.6,1199.8 404.2,1200.9 405.8,1201.9 407.5,1202.9 409.2,1203.8 410.8,1204.7 412.4,1205.5 414.0,1206.3 415.7,1207.0 417.3,1207.7 418.9,1208.3 420.5,1208.9 422.0,1209.5 423.6,1210.1 425.3,1210.6 427.0,1211.1 428.9,1211.6 430.9,1212.1 433.0,1212.5 435.0,1213.0 437.0,1213.3 439.0,1213.6 441.1,1213.8 443.1,1214.0 444.8,1214.1 446.0,1214.2 453.3,1213.3 457.3,1215.1 464.1,1214.2 477.7,1214.0 489.4,1212.8 500.3,1211.5 506.6,1210.1 513.8,1206.1 519.3,1207.7 525.2,1206.1 530.5,1202.3 537.4,1201.6 544.6,1199.4 550.0,1196.2 556.3,1195.7 561.8,1192.6 571.7,1191.7 572.5,1191.5 573.6,1191.2 574.9,1190.8 576.4,1190.5 578.0,1190.3 579.8,1190.2 581.8,1190.2 583.9,1190.3 586.0,1190.4 588.0,1190.6 589.9,1190.8 591.7,1191.1 593.4,1191.4 595.2,1191.7 597.0,1192.1 598.9,1192.5 600.8,1192.9 602.7,1193.3 604.5,1193.7 606.1,1194.2 607.3,1194.7 608.3,1195.3 609.2,1195.9 610.2,1196.5 611.5,1197.1 613.2,1197.7 615.2,1198.4 617.3,1199.1 619.5,1199.9 621.4,1200.7 623.2,1201.7 624.8,1202.8 626.4,1203.9 628.0,1205.0 629.6,1206.1 631.3,1207.1 632.9,1208.0 634.6,1208.8 636.2,1209.7 637.7,1210.7 639.1,1211.7 640.3,1212.8 641.5,1213.9 642.7,1215.0 644.0,1216.1 645.4,1217.1 647.0,1218.2 648.5,1219.2 650.0,1220.1 651.3,1221.1 652.5,1222.1 653.5,1223.2 654.5,1224.1 655.2,1225.0 655.8,1225.6 656.5,1224.4 657.6,1222.6 658.5,1220.6 659.1,1218.2 659.5,1215.6 659.9,1213.4 660.3,1212.0 660.7,1211.0 661.2,1210.4 661.7,1210.0 662.2,1209.9 662.8,1210.4 663.4,1211.5 664.1,1213.1 664.8,1215.2 665.5,1218.2 666.2,1221.7 666.7,1224.2 667.0,1225.4 667.5,1227.2 668.1,1229.3 668.7,1231.4 669.4,1233.3 670.1,1235.1 670.9,1236.8 671.8,1238.5 672.6,1240.2 673.3,1241.8 673.9,1243.4 674.4,1244.9 674.8,1246.4 675.3,1247.9 675.7,1249.5 676.2,1251.2 676.7,1253.1 677.1,1255.0 677.6,1256.8 678.0,1258.6 678.4,1260.3 678.7,1262.1 679.0,1263.8 679.4,1265.4 679.7,1266.8 680.0,1268.1 680.3,1269.2 680.7,1270.2 681.1,1271.2 681.6,1272.1 682.2,1273.1 683.0,1274.0 683.8,1274.9 684.6,1275.7 685.5,1276.3 686.4,1276.7 687.3,1276.9 688.2,1277.0 689.1,1277.1 690.0,1277.2 690.8,1277.3 691.7,1277.2 692.5,1277.2 693.3,1277.3 694.0,1277.6 694.7,1278.1 695.4,1278.6 696.1,1279.3 696.7,1280.2 697.3,1281.4 697.8,1282.9 698.3,1284.6 698.7,1286.5 699.1,1288.6 699.5,1290.7 699.9,1292.9 700.4,1295.3 700.8,1297.8 701.3,1300.2 701.8,1302.4 702.3,1304.3 702.8,1306.1 703.3,1307.8 703.8,1309.5 704.5,1311.4 705.3,1313.5 706.2,1315.7 707.1,1318.0 708.1,1320.2 709.0,1322.3 709.9,1324.2 710.9,1325.9 711.8,1327.7 712.7,1329.4 713.5,1331.3 714.1,1333.3 714.7,1335.5 715.2,1337.7 715.7,1339.9 716.2,1342.2 716.8,1344.7 717.5,1347.3 718.1,1349.9 718.8,1352.3 719.4,1354.3 720.0,1355.8 720.6,1356.9 721.2,1357.8 721.7,1358.5 722.2,1359.2 722.6,1359.8 723.0,1360.3 723.3,1360.8 723.6,1361.1 723.9,1361.4 724.2,1361.6 724.6,1361.8 724.9,1361.9 725.2,1362.0 725.4,1362.1 725.6,1362.0 725.8,1362.0 726.1,1361.8 726.5,1361.6 726.9,1361.3 727.4,1360.8 727.9,1360.2 728.5,1359.4 729.0,1358.7 729.6,1358.0 730.1,1357.4 730.7,1356.8 731.2,1356.2 731.8,1355.5 732.3,1354.7 732.8,1353.8 733.2,1352.7 733.7,1351.6 734.2,1350.5 734.8,1349.4 735.5,1348.3 736.3,1347.2 737.1,1346.1 737.9,1344.9 738.7,1343.7 739.5,1342.4 740.2,1341.1 740.9,1339.8 741.7,1338.3 742.5,1336.8 743.3,1335.1 744.2,1333.4 745.1,1331.5 746.0,1329.6 747.0,1327.7 748.0,1325.7 749.1,1323.6 750.3,1321.5 751.4,1319.6 752.4,1317.8 753.3,1316.3 754.2,1315.0 755.0,1313.8 755.9,1312.7 756.9,1311.4 758.0,1310.0 759.3,1308.6 760.6,1307.1 761.9,1305.7 763.3,1304.2 764.7,1302.7 766.1,1301.2 767.5,1299.8 769.0,1298.3 770.5,1297.0 772.0,1295.8 773.6,1294.6 775.2,1293.6 776.9,1292.6 778.6,1291.6 780.4,1290.7 782.2,1289.8 784.0,1289.0 785.9,1288.2 787.7,1287.5 789.5,1286.8 791.3,1286.2 793.1,1285.7 794.9,1285.2 796.7,1284.8 798.6,1284.5 800.7,1284.3 802.7,1284.1 804.5,1284.0 805.7,1283.9 810.3,1284.3 813.9,1282.5 818.4,1283.6 823.8,1282.5 835.2,1282.6 844.7,1283.9 856.9,1284.7 863.0,1283.0 867.8,1285.7 874.5,1287.1 880.0,1283.9 884.7,1284.7 888.8,1288.0 893.5,1283.9 899.0,1285.7 909.8,1285.3 922.0,1285.3 932.9,1286.4 937.6,1291.1 942.4,1287.7 951.8,1287.1 958.6,1286.1 972.2,1285.7 985.8,1285.3 999.3,1284.7 1012.9,1283.7 1022.4,1281.2 1034.6,1280.9 1038.7,1279.3 1043.4,1281.2 1053.6,1278.5 1061.7,1276.2 1065.8,1277.6 1073.9,1273.5 1080.7,1275.3 1088.8,1271.5 1098.3,1271.7 1106.5,1268.7 1113.2,1270.4 1123.3,1266.5 1136.9,1264.0 1147.8,1261.3 1157.3,1261.0 1168.1,1256.5 1172.2,1257.0 1176.4,1260.0 1181.7,1254.5 1187.1,1255.2 1191.2,1253.2 1199.3,1253.8 1204.7,1251.1 1211.5,1252.1 1219.6,1250.7 1225.1,1247.1 1231.8,1249.1 1242.7,1247.1 1250.8,1249.4 1257.6,1246.1 1260.3,1249.1 1262.6,1255.3 1264.4,1256.7 1267.8,1253.2 1272.5,1250.4 1279.3,1248.4 1292.9,1247.5 1303.7,1247.1 1308.5,1243.4 1312.5,1247.5 1316.6,1244.3 1322.7,1246.4 1333.6,1245.3 1347.1,1245.7 1360.7,1245.7 1368.8,1247.5 1375.6,1246.1 1381.0,1248.4 1387.8,1247.5 1391.9,1248.4 1403.0,1247.3 1423.7,1247.5 1437.3,1248.4 1444.0,1247.1 1457.6,1248.0 1471.2,1247.5 1486.1,1246.4 1498.3,1247.7 1507.8,1246.1 1513.9,1250.4 1518.6,1247.7 1522.7,1250.4 1527.5,1246.1 1532.2,1249.1 1537.6,1247.7 1542.4,1251.5 1547.8,1248.4 1552.5,1250.2 1570.2,1250.2 1575.6,1252.5 1579.7,1250.2 1583.7,1253.2 1587.8,1250.2 1593.2,1254.2 1600.0,1254.5 1606.8,1257.0 1620.4,1257.9 1627.1,1259.3 1633.9,1261.3 1640.7,1260.2 1648.0,1261.5 1662.5,1261.3 1665.0,1258.4 1675.0,1258.0 1683.7,1255.6 1692.7,1252.2 1697.8,1250.0 1675.6,1250.2 1703.0,1244.8 1743.0,1238.3 1783.0,1231.8 1823.0,1225.3 1863.0,1218.4 1903.0,1212.1 1929.5,1208.2 1906.5,1212.4 1924.0,1212.4 1929.9,1221.4 1935.3,1216.3 1940.8,1212.3 1947.1,1208.6 1957.9,1208.0 1961.8,1206.2 1975.3,1206.6 1978.0,1208.4 1982.6,1204.6 1987.1,1208.4 1997.9,1208.4 2000.2,1210.2"/>
</g>
<g fill="#000" shape-rendering="crispEdges">
<rect x="187" y="13" width="2147" height="5"/>
<rect x="187" y="13" width="5" height="1490"/>
<rect x="2329" y="13" width="5" height="1489"/>
<rect x="187" y="1497" width="2145" height="6"/>
<line x1="189.5" y1="1500" x2="189.5" y2="1521.3" stroke="#000" stroke-width="5" stroke-linecap="round"/>
<line x1="655.0" y1="1500" x2="655.0" y2="1520.8" stroke="#000" stroke-width="6" stroke-linecap="round"/>
<line x1="1120.5" y1="1500" x2="1120.5" y2="1521.3" stroke="#000" stroke-width="5" stroke-linecap="round"/>
<line x1="1586.5" y1="1500" x2="1586.5" y2="1521.3" stroke="#000" stroke-width="5" stroke-linecap="round"/>
<line x1="2052.0" y1="1500" x2="2052.0" y2="1520.8" stroke="#000" stroke-width="6" stroke-linecap="round"/>
</g>
<text x="189.3" y="1603.5" font-size="60.5" text-anchor="middle">-100</text>
<text x="654.5" y="1603.5" font-size="60.5" text-anchor="middle">0</text>
<text x="1121.5" y="1603.5" font-size="60.5" text-anchor="middle">100</text>
<text x="1585" y="1603.5" font-size="60.5" text-anchor="middle">200</text>
<text x="2051.3" y="1603.5" font-size="60.5" text-anchor="middle">300</text>
<text x="1010.5" y="1741.5" font-size="72" letter-spacing="-0.38" dx="0 -0.8 -1.2 -1.4 -1.1 0.2 0.3 0 2.2 -0.2 0.7 0.3 0.4">Temperature (<tspan x="1416.9" y="1705.5" font-size="46.5">0</tspan><tspan x="1439.9" y="1741.5">C</tspan><tspan x="1487.0" y="1741.5">)</tspan></text>
<text transform="translate(66,938) rotate(-90)" font-size="72" letter-spacing="-0.9">Endothermic</text>
</svg>
</body>
</html>
